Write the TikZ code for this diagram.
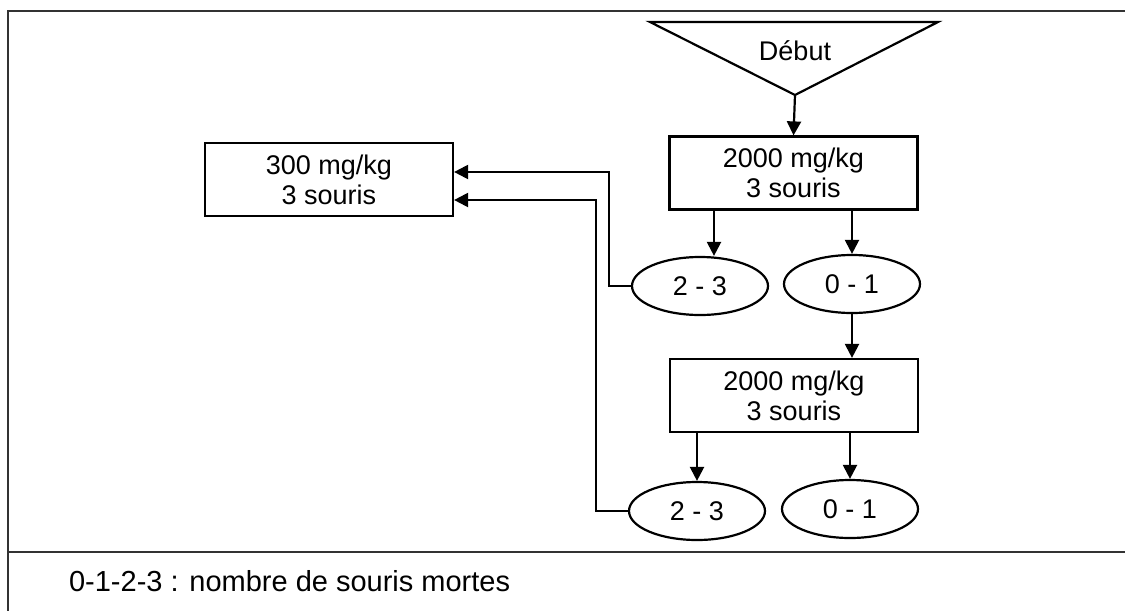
\documentclass[tikz,border=0pt]{standalone}
\usepackage{fontspec}
\setmainfont{Liberation Sans}
\usetikzlibrary{arrows.meta, shapes.geometric}

\begin{document}
\begin{tikzpicture}[
    x=0.5pt, y=-0.5pt,
    box/.style={rectangle, draw, line width=1.1pt, minimum width=124pt, minimum height=36.5pt, align=center, inner sep=0pt, font=\fontsize{13.5}{15}\selectfont},
    result/.style={ellipse, draw, line width=1.1pt, minimum width=68pt, minimum height=29pt, inner sep=0pt, font=\fontsize{13.5}{15}\selectfont},
    arrow/.style={-{Triangle[length=7pt, width=7pt]}, line width=1.1pt},
    frame/.style={line width=1.2pt, draw=black!80}
]
\useasboundingbox (0,0) rectangle (1125,611);

% Frame
\draw[frame] (1125,11) -- (8,11) -- (8,611);
\draw[frame] (8,552) -- (1125,552);

% Start
\draw[line width=1.1pt] (650,22) -- (938,22) -- (795,95) -- cycle;
\node[font=\fontsize{13.5}{15}\selectfont] (debut) at (795,51) {Début};
\coordinate (debut-tip) at (795,95);

% Doses
\node[box] (dose1) at (793.5,173) {2000 mg/kg\\3 souris};
\node[box] (dose2) at (794,395.5) {2000 mg/kg\\3 souris};
\node[box] (dose300) at (329,179.5) {300 mg/kg\\3 souris};

% Results
\node[result] (res1a) at (700,286) {2 - 3};
\node[result] (res1b) at (852,284) {0 - 1};
\node[result] (res2a) at (697,511) {2 - 3};
\node[result] (res2b) at (850,509) {0 - 1};

% Arrows
\draw[arrow] (debut-tip) -- (dose1.north);
\draw[arrow] ([xshift=7pt]res1a.north |- dose1.south) -- ([xshift=7pt]res1a.north);
\draw[arrow] (res1b.north |- dose1.south) -- (res1b.north);
\draw[arrow] (res1b.south) -- (res1b.south |- dose2.north);
\draw[arrow] (res2a.north |- dose2.south) -- (res2a.north);
\draw[arrow] (res2b.north |- dose2.south) -- (res2b.north);
\draw[arrow] (res1a.west) -- ++(-22,0) |- ([yshift=3.75pt]dose300.east);
\draw[arrow] (res2a.west) -- ++(-32,0) |- ([yshift=-10.25pt]dose300.east);

% Legend
\node[anchor=west, font=\fontsize{14.5}{16}\selectfont] (legend) at (62,581) {0-1-2-3 : nombre de souris mortes};
\end{tikzpicture}
\end{document}
